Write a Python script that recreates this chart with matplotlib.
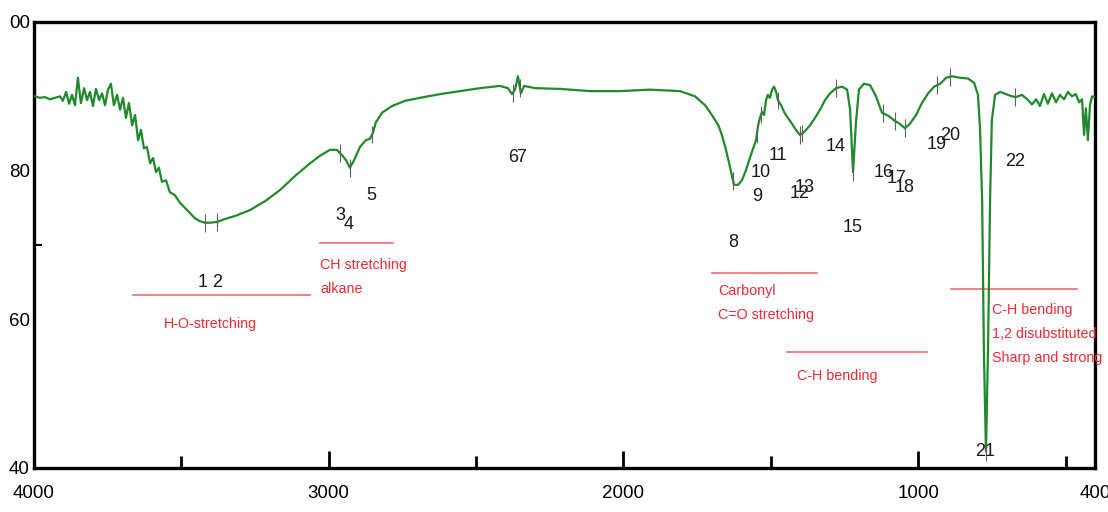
import numpy as np
import matplotlib
matplotlib.use("Agg")
import matplotlib.pyplot as plt

plt.rcParams["font.family"] = ["Liberation Sans", "DejaVu Sans"]

# IR spectrum (wavenumber cm-1, transmittance %)
wavenumber = [
    3997, 3980, 3963, 3946, 3929, 3912, 3902, 3891, 3881, 3871, 3861, 3851,
    3841, 3830, 3820, 3810, 3800, 3790, 3779, 3769, 3759, 3749, 3739, 3729,
    3718, 3708, 3698, 3688, 3678, 3667, 3657, 3647, 3637, 3627, 3617, 3606,
    3596, 3586, 3576, 3566, 3552, 3539, 3522, 3505, 3488, 3471, 3454, 3437,
    3420, 3403, 3379, 3352, 3318, 3267, 3216, 3165, 3114, 3063, 3030, 2996,
    2972, 2955, 2941, 2928, 2914, 2894, 2874, 2860, 2850, 2840, 2819, 2785,
    2741, 2690, 2622, 2555, 2487, 2419, 2392, 2378, 2368, 2358, 2348, 2337,
    2300, 2215, 2113, 2012, 1910, 1808, 1757, 1723, 1700, 1678, 1666, 1652,
    1638, 1625, 1611, 1598, 1584, 1571, 1560, 1550, 1543, 1537, 1530, 1523,
    1516, 1510, 1503, 1496, 1489, 1482, 1476, 1465, 1455, 1442, 1428, 1415,
    1401, 1387, 1367, 1350, 1333, 1316, 1299, 1279, 1258, 1241, 1231, 1221,
    1211, 1201, 1184, 1163, 1143, 1123, 1102, 1079, 1062, 1045, 1028, 1007,
    986, 966, 946, 925, 905, 885, 858, 831, 810, 797, 790, 783,
    777, 770, 763, 756, 750, 739, 722, 702, 682, 668, 648, 627,
    614, 600, 587, 573, 560, 546, 532, 519, 505, 492, 478, 465,
    454, 444, 437, 431, 424, 417, 410, 400,
]
transmittance = [
    90.0, 89.8, 89.9, 89.6, 89.8, 90.0, 89.4, 90.6, 89.0, 90.2, 88.8, 92.5,
    89.1, 91.1, 89.5, 90.6, 88.7, 91.0, 89.5, 90.4, 88.8, 90.9, 91.7, 88.8,
    90.2, 88.2, 89.8, 87.1, 89.1, 86.1, 87.5, 84.1, 85.5, 83.0, 83.2, 81.0,
    81.7, 79.8, 80.4, 78.5, 78.7, 77.1, 76.7, 75.7, 75.0, 74.3, 73.6, 73.2,
    73.0, 73.0, 73.1, 73.5, 73.9, 74.7, 75.9, 77.4, 79.3, 81.0, 82.0, 82.8,
    82.8, 82.1, 81.4, 80.4, 81.4, 83.2, 84.1, 84.3, 85.1, 86.5, 87.8, 88.7,
    89.4, 89.8, 90.3, 90.7, 91.1, 91.4, 91.1, 90.3, 90.9, 92.7, 90.4, 91.4,
    91.1, 91.0, 90.7, 90.7, 90.9, 90.7, 90.0, 88.8, 87.5, 86.1, 84.8, 82.8,
    80.4, 78.1, 78.1, 78.7, 80.1, 81.7, 83.0, 84.1, 86.1, 87.1, 87.9, 87.5,
    89.5, 90.2, 89.8, 90.9, 91.3, 90.6, 89.5, 88.8, 87.9, 87.1, 86.3, 85.5,
    84.8, 85.2, 86.1, 87.1, 88.2, 89.5, 90.4, 91.1, 91.3, 90.9, 88.2, 79.8,
    86.5, 90.9, 91.7, 91.5, 90.0, 87.8, 87.4, 86.7, 86.3, 85.7, 86.3, 87.5,
    89.2, 90.4, 91.3, 91.7, 92.5, 92.7, 92.5, 92.4, 91.8, 90.2, 85.5, 76.1,
    55.9, 42.2, 55.9, 76.1, 86.8, 90.2, 90.6, 90.3, 90.0, 89.9, 90.2, 89.5,
    88.9, 89.6, 88.7, 90.3, 89.0, 90.4, 89.2, 90.2, 89.6, 90.6, 90.0, 90.3,
    89.2, 89.6, 84.8, 88.4, 84.1, 88.8, 90.0, 89.9,
]

# numbered peak picks
peak_wn = [3420, 3379, 2962, 2928, 2853, 2375, 2351, 1628, 1547, 1533, 1475,
           1401, 1394, 1279, 1221, 1119, 1078, 1044, 936, 892, 770, 671]
peak_labels = [str(i) for i in range(1, 23)]
label_wn = [3427, 3379, 2962, 2931, 2857, 2375, 2348, 1628, 1547, 1533, 1476,
            1401, 1384, 1279, 1221, 1116, 1075, 1045, 936, 892, 773, 671]
label_t = [64.9, 64.9, 74.0, 72.8, 76.7, 81.8, 81.8, 70.3, 76.5, 79.8, 82.1,
           76.9, 77.8, 83.3, 72.4, 79.7, 78.9, 77.7, 83.5, 84.7, 42.2, 81.2]

# band assignments
band_start = [3664, 3030, 1699, 1445, 888]
band_end = [3063, 2782, 1343, 970, 461]
band_level = [63.3, 70.3, 66.2, 55.6, 64.1]
band_text = [
    "H-O-stretching",
    "CH stretching\nalkane",
    "Carbonyl\nC=O stretching",
    "C-H bending",
    "C-H bending\n1,2 disubstituted\nSharp and strong",
]
text_wn = [3403, 3030, 1679, 1411, 750]
text_t = [60.3, 68.3, 64.7, 53.3, 62.2]
text_ha = ["center", "left", "left", "left", "left"]

fig = plt.figure(figsize=(11.08, 5.12), dpi=100)
ax = fig.add_axes([34 / 1108, 44 / 512, 1061 / 1108, 446 / 512])

ax.plot(wavenumber, transmittance, color="#1f8a2c", lw=1.6, zorder=3)

peak_t = np.interp(peak_wn, wavenumber[::-1], transmittance[::-1])
ax.vlines(peak_wn, peak_t - 1.2, peak_t + 1.2, color="#606060", lw=0.8,
          zorder=4)

for lab, x, y in zip(peak_labels, label_wn, label_t):
    ax.text(x, y, lab, ha="center", va="center", fontsize=13,
            color="#1a1a1a", zorder=5)

for s, e, lv in zip(band_start, band_end, band_level):
    ax.plot([s, e], [lv, lv], color="#f26b6f", lw=1.2, zorder=2)

for txt, x, y, ha in zip(band_text, text_wn, text_t, text_ha):
    ax.text(x, y, txt, ha=ha, va="top", fontsize=10.3, color="#ee2a35",
            linespacing=1.9, zorder=5)

ax.set_xlim(4000, 400)
ax.set_ylim(40, 100)

ax.set_xticks([4000, 3000, 2000, 1000, 400])
ax.set_xticklabels(["4000", "3000", "2000", "1000", "400"])
ax.set_xticks([3500, 2500, 1500, 500], minor=True)
ax.set_yticks([40, 60, 80, 100])
ax.set_yticklabels(["40", "60", "80", "00"])
ax.set_yticks([70], minor=True)

ax.tick_params(axis="x", which="major", direction="in", length=12, width=2,
               labelsize=13.5, pad=12)
ax.tick_params(axis="x", which="minor", direction="in", length=9, width=2)
ax.tick_params(axis="y", which="major", direction="in", length=0,
               labelsize=13.5, pad=3)
ax.tick_params(axis="y", which="minor", direction="in", length=6, width=1.5)

for sp in ax.spines.values():
    sp.set_linewidth(2.4)
    sp.set_color("black")

fig.savefig("out.png", dpi=100)
